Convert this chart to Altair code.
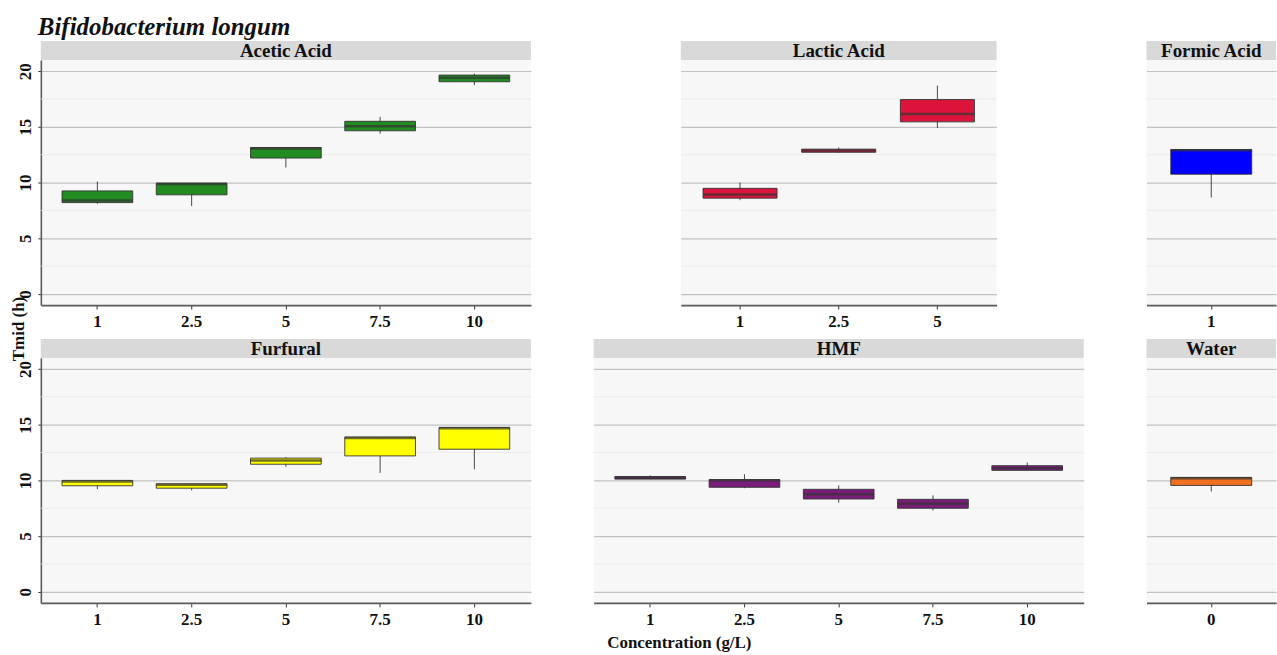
import altair as alt
import pandas as pd

# Box summaries of Tmid (h) per inhibitor and concentration (g/L)
PANEL = (["Acetic Acid"] * 5 + ["Lactic Acid"] * 3 + ["Formic Acid"]
         + ["Furfural"] * 5 + ["HMF"] * 5 + ["Water"])
CONC = ["1", "2.5", "5", "7.5", "10",
        "1", "2.5", "5",
        "1",
        "1", "2.5", "5", "7.5", "10",
        "1", "2.5", "5", "7.5", "10",
        "0"]
T_MIN = [8.10, 7.90, 11.35, 14.40, 18.75,
         8.42, 12.68, 14.90,
         8.66,
         9.22, 9.10, 11.22, 10.68, 11.00,
         10.10, 9.30, 8.00, 7.30, 10.89,
         9.00]
T_Q1 = [8.20, 8.90, 12.20, 14.65, 19.05,
        8.60, 12.72, 15.45,
        10.75,
        9.52, 9.30, 11.45, 12.20, 12.80,
        10.12, 9.38, 8.33, 7.50, 10.90,
        9.55]
T_MED = [8.40, 9.88, 13.05, 15.05, 19.40,
         8.92, 12.87, 16.15,
         12.90,
         9.90, 9.60, 11.78, 13.80, 14.68,
         10.22, 10.00, 8.75, 7.90, 11.10,
         10.20]
T_Q3 = [9.25, 9.95, 13.15, 15.50, 19.65,
        9.48, 13.00, 17.45,
        12.97,
        10.00, 9.70, 12.00, 13.90, 14.76,
        10.35, 10.08, 9.20, 8.30, 11.32,
        10.27]
T_MAX = [10.10, 9.95, 13.15, 15.90, 19.78,
         10.00, 13.15, 18.70,
         12.97,
         10.00, 9.70, 12.10, 13.90, 14.76,
         10.45, 10.55, 9.55, 8.66, 11.60,
         10.27]

Y_MAJOR = [0, 5, 10, 15, 20]
Y_MINOR = [2.5, 7.5, 12.5, 17.5]

FILL = {
    "Acetic Acid": "#228B22",
    "Lactic Acid": "#DC143C",
    "Formic Acid": "#0000FF",
    "Furfural": "#FFFF00",
    "HMF": "#7A1C7A",
    "Water": "#F07020",
}

df = pd.DataFrame({"panel": PANEL, "conc": CONC, "lo": T_MIN, "q1": T_Q1,
                   "med": T_MED, "q3": T_Q3, "hi": T_MAX})
minor_df = pd.DataFrame({"v": Y_MINOR})

FONT = "Liberation Serif"
H = 246
INK = "#333333"

y_scale = alt.Scale(domain=[-1, 21], nice=False, zero=False)
left_y_axis = alt.Axis(values=Y_MAJOR, title=None, labelAngle=270, labelFont=FONT,
                       labelFontWeight="bold", labelFontSize=17, labelColor="#111111",
                       labelPadding=3, tickSize=3, tickColor=INK, domainColor="#5A5A5A",
                       domainWidth=1.6, gridColor="#C2C2C2", gridWidth=1.2)
inner_y_axis = alt.Axis(values=Y_MAJOR, title=None, labels=False, ticks=False,
                        domain=False, gridColor="#C2C2C2", gridWidth=1.2)
x_axis = alt.Axis(title=None, labelAngle=0, labelFont=FONT, labelFontWeight="bold",
                  labelFontSize=17, labelColor="#111111", labelPadding=5, tickSize=4,
                  tickColor=INK, domainColor="#5A5A5A", domainWidth=1.6,
                  gridColor="#DCDCDC", gridWidth=0.9)


def make_panel(name, width, left_axis=False, extra=()):
    d = df[df["panel"] == name]
    order = list(d["conc"])
    band = width / (len(order) + 0.2) * 0.75
    yax = left_y_axis if left_axis else inner_y_axis
    x = alt.X("conc:N", sort=order, axis=x_axis,
              scale=alt.Scale(paddingInner=0.25, paddingOuter=0.225))

    minor = alt.Chart(minor_df).mark_rule(color="#E8E8E8", strokeWidth=0.8).encode(
        y=alt.Y("v:Q", scale=y_scale, axis=yax))
    base = alt.Chart(d).encode(x=x)
    whisker = base.mark_rule(color=INK, strokeWidth=0.9).encode(
        y=alt.Y("lo:Q", scale=y_scale, axis=yax), y2="hi:Q")
    box = base.mark_bar(fill=FILL[name], stroke=INK, strokeWidth=0.9).encode(
        y=alt.Y("q1:Q", scale=y_scale, axis=yax), y2="q3:Q")
    median = base.mark_tick(color=INK, thickness=2.5, size=band).encode(
        y=alt.Y("med:Q", scale=y_scale, axis=yax))

    label_df = pd.DataFrame({"panel": [name]})
    strip = alt.Chart(label_df).mark_rect(color="#D9D9D9").encode(
        x=alt.value(0), x2=alt.value(width), y=alt.value(-19), y2=alt.value(0))
    strip_text = alt.Chart(label_df).mark_text(
        font=FONT, fontWeight="bold", fontSize=19, color="#111111", baseline="middle"
    ).encode(x=alt.value(width / 2), y=alt.value(-9), text="panel:N")

    return alt.layer(minor, whisker, box, median, strip, strip_text, *extra).properties(
        width=width, height=H)


y_title = alt.Chart(pd.DataFrame({"t": ["Tmid (h)"]})).mark_text(
    font=FONT, fontWeight="bold", fontSize=17, color="#111111", angle=270,
    align="center", baseline="middle"
).encode(x=alt.value(-22), y=alt.value(H + 24), text="t:N")

x_title = alt.Chart(pd.DataFrame({"t": ["Concentration (g/L)"]})).mark_text(
    font=FONT, fontWeight="bold", fontSize=17, color="#111111",
    align="center", baseline="middle"
).encode(x=alt.value(86), y=alt.value(H + 40), text="t:N")

col1 = alt.vconcat(
    make_panel("Acetic Acid", 492, left_axis=True, extra=(y_title,)),
    make_panel("Furfural", 492, left_axis=True),
    spacing=53, bounds="flush",
)
col2 = alt.vconcat(
    make_panel("Lactic Acid", 317),
    make_panel("HMF", 492, extra=(x_title,)),
    spacing=53, bounds="flush", center=True,
)
col3 = alt.vconcat(
    make_panel("Formic Acid", 130),
    make_panel("Water", 130),
    spacing=53, bounds="flush",
)

chart = alt.hconcat(col1, col2, col3, spacing=61).properties(
    title=alt.TitleParams(
        "Bifidobacterium longum", anchor="start", font=FONT, fontSize=25,
        fontStyle="italic", fontWeight="bold", color="#111111", offset=1, dx=28,
    ),
    padding={"left": 10, "top": 14, "right": 0, "bottom": 0},
    background="white",
).configure_view(strokeWidth=0, fill="#F7F7F7")

chart.save("out.html", embed_options={"renderer": "svg", "actions": False})
